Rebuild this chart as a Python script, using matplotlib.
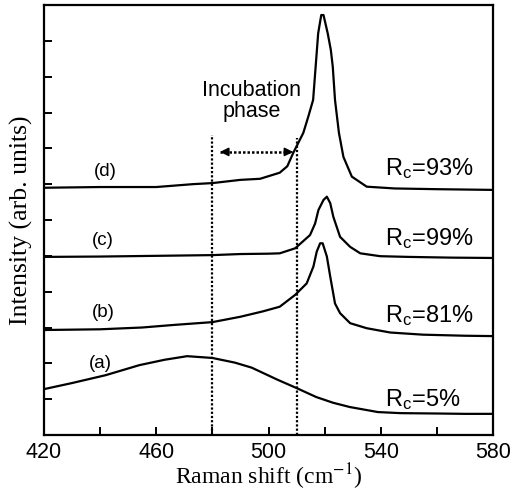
#!/usr/bin/env python3
"""Raman spectra of four films with the incubation phase marked."""

import matplotlib

matplotlib.use("Agg")
import matplotlib.pyplot as plt

plt.rcParams.update({
    "font.family": "Liberation Sans",
    "mathtext.fontset": "custom",
    "mathtext.rm": "Liberation Sans",
    "mathtext.it": "Liberation Sans",
})

# spectra (x in cm^-1, y in axis units 0..12)
a_x = [420, 430, 442, 454, 463, 471, 480, 488, 494, 503, 510, 517, 523, 529, 539, 547, 560, 570, 580]
a_y = [1.28, 1.45, 1.67, 1.95, 2.1, 2.2, 2.15, 2.02, 1.88, 1.55, 1.31, 1.06, 0.9, 0.78, 0.64, 0.61, 0.6, 0.59, 0.59]

b_x = [420, 440, 455, 466, 480, 490, 498, 504, 509.5, 513.6, 516, 517.2, 518.4, 519.3, 520.8,
       522, 523.7, 525.5, 529.1, 535, 543.4, 555, 570, 580]
b_y = [2.93, 2.95, 3.0, 3.07, 3.15, 3.3, 3.45, 3.58, 3.91, 4.23, 4.7, 5.12, 5.35, 5.35, 4.98,
       4.42, 3.67, 3.4, 3.12, 2.98, 2.86, 2.8, 2.77, 2.76]

c_x = [420, 440, 460, 480, 490, 500, 504, 509.5, 514.8, 516.6, 517.8, 519.6, 520.8, 522,
       523.1, 525.5, 529.1, 532.7, 539.8, 550, 565, 580]
c_y = [4.97, 4.98, 5.0, 5.02, 5.05, 5.06, 5.07, 5.21, 5.58, 5.9, 6.28, 6.56, 6.65, 6.47,
       6.09, 5.53, 5.25, 5.07, 4.99, 4.97, 4.95, 4.94]

d_x = [420, 440, 460, 473, 480, 490, 497, 504, 506.7, 508.8, 512.4, 514.2, 515.9, 516.8,
       517.7, 518.8, 519.6, 521.1, 522.2, 522.9, 523.7, 525.1, 526.7, 529.7, 535, 545, 560, 580]
d_y = [6.9, 6.92, 6.92, 7.0, 7.03, 7.12, 7.15, 7.32, 7.5, 7.87, 8.43, 8.89, 9.35, 10.28,
       11.21, 11.72, 11.72, 11.21, 10.75, 10.28, 9.35, 8.43, 7.76, 7.21, 6.93, 6.88, 6.86, 6.84]

curve_tags = ["(a)", "(b)", "(c)", "(d)"]
tag_pos = [(440, 2.0), (441, 3.43), (441, 5.44), (441.7, 7.34)]
rc_labels = ["5%", "81%", "99%", "93%"]
rc_base = [0.81, 3.15, 5.30, 7.26]

x_major = [420, 460, 500, 540, 580]
x_minor = [440, 480, 520, 560]
y_ticks = list(range(1, 12))

phase_lines = [480, 510]
phase_tops = [8.37, 8.3]
arrow_span = (482.7, 508.8)
arrow_y = 7.9

fig = plt.figure(figsize=(5.13, 4.93), dpi=100)
ax = fig.add_axes([44 / 513, 58 / 493, 449 / 513, 430 / 493])

for xs, ys in [(a_x, a_y), (b_x, b_y), (c_x, c_y), (d_x, d_y)]:
    ax.plot(xs, ys, color="black", lw=1.6)

for tag, (tx, ty) in zip(curve_tags, tag_pos):
    ax.text(tx, ty, tag, fontsize=13.5, ha="center", va="center")

for lab, yb in zip(rc_labels, rc_base):
    ax.text(541.5, yb, r"R$_\mathregular{c}$=" + lab, fontsize=17, ha="left", va="baseline")

for xv, top in zip(phase_lines, phase_tops):
    ax.plot([xv, xv], [0, top], color="black", lw=1.6, ls=(0, (1, 0.9)))

ax.plot(arrow_span, [arrow_y, arrow_y], color="black", lw=1.8, ls=(0, (1, 0.8)))
for tip, tail in [(arrow_span[0], arrow_span[0] + 2.5), (arrow_span[1], arrow_span[1] - 2.5)]:
    ax.annotate("", xy=(tip, arrow_y), xytext=(tail, arrow_y),
                arrowprops=dict(arrowstyle="-|>,head_length=0.5,head_width=0.25",
                                color="black", lw=1.2, shrinkA=0, shrinkB=0))

ax.text(494.1, 9.31, "Incubation\nphase", fontsize=15.5, ha="center", va="center",
        linespacing=1.0)

ax.set_xlim(420, 580)
ax.set_ylim(0, 12)
ax.set_xticks(x_major)
ax.set_xticks(x_minor, minor=True)
ax.set_yticks(y_ticks)
ax.set_yticklabels([])
ax.tick_params(direction="in", width=1.4, length=5.5, labelsize=15.5, pad=5)
ax.tick_params(axis="x", which="minor", direction="in", width=1.4, length=5.5)
for sp in ax.spines.values():
    sp.set_linewidth(1.6)

ax.set_xlabel(r"Raman shift (cm$^{-1}$)", family="Liberation Serif", fontsize=17, labelpad=-1)
ax.set_ylabel("Intensity (arb. units)", family="Liberation Serif", fontsize=18.5, labelpad=3)
ax.xaxis.label.set_math_fontfamily("stix")

fig.savefig("out.png", dpi=100)
plt.close(fig)
